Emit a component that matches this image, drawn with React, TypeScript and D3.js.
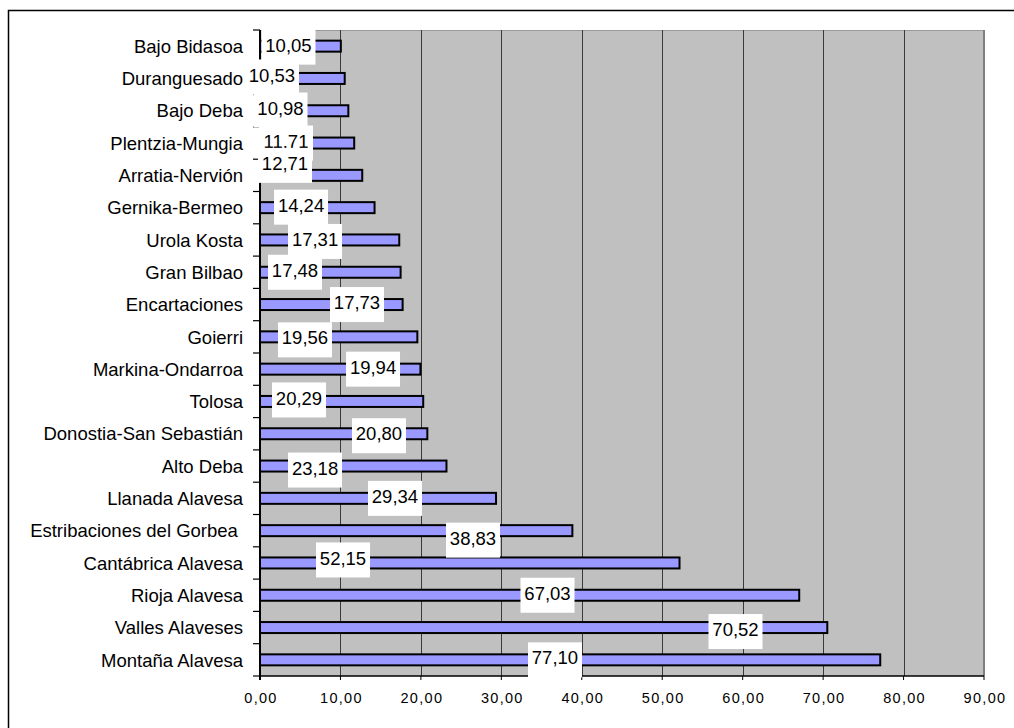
import React from "react";
import * as d3 from "d3";

// Comarcas and their values (bottom of the list is the largest)
const categories = [
  "Bajo Bidasoa",
  "Duranguesado",
  "Bajo Deba",
  "Plentzia-Mungia",
  "Arratia-Nervión",
  "Gernika-Bermeo",
  "Urola Kosta",
  "Gran Bilbao",
  "Encartaciones",
  "Goierri",
  "Markina-Ondarroa",
  "Tolosa",
  "Donostia-San Sebastián",
  "Alto Deba",
  "Llanada Alavesa",
  "Estribaciones del Gorbea ",
  "Cantábrica Alavesa",
  "Rioja Alavesa",
  "Valles Alaveses",
  "Montaña Alavesa",
];

const values = [
  10.05, 10.53, 10.98, 11.71, 12.71, 14.24, 17.31, 17.48, 17.73, 19.56,
  19.94, 20.29, 20.8, 23.18, 29.34, 38.83, 52.15, 67.03, 70.52, 77.1,
];

const valueLabels = [
  "10,05", "10,53", "10,98", "11.71", "12,71", "14,24", "17,31", "17,48",
  "17,73", "19,56", "19,94", "20,29", "20,80", "23,18", "29,34", "38,83",
  "52,15", "67,03", "70,52", "77,10",
];

const tickValues = [0, 10, 20, 30, 40, 50, 60, 70, 80, 90];
const tickLabels = [
  "0,00", "10,00", "20,00", "30,00", "40,00", "50,00", "60,00", "70,00",
  "80,00", "90,00",
];

// Where each data label box sits: [position along the value axis, vertical shift in px]
const labelPlacement: [number, number][] = [
  [3.54, 1], [1.49, -1.5], [2.55, -0.75], [3.23, 0], [3.11, -10],
  [5.1, -0.5], [6.84, 1.5], [4.35, 0], [12.06, 0], [5.59, 3],
  [14.05, 0], [4.85, -1.5], [14.79, 2], [6.84, 4], [16.78, 0],
  [26.48, 9.5], [10.32, -3], [35.74, 0], [59.11, 4], [36.67, 0],
];

const W = 1014;
const H = 728;
const plot = { left: 260, right: 984, top: 30, bottom: 676 };
const FONT = "'Liberation Sans', Arial, Helvetica, sans-serif";

export default function App() {
  const x = d3.scaleLinear().domain([0, 90]).range([plot.left, plot.right]);
  const y = d3
    .scaleBand<string>()
    .domain(categories)
    .range([plot.top, plot.bottom])
    .paddingInner(0)
    .paddingOuter(0);
  const bw = y.bandwidth();
  const barH = 11;
  const boxW = 54;
  const boxH = 35;

  const boundaries = d3.range(categories.length + 1).map((k) => plot.top + k * bw);

  return (
    <svg
      width={W}
      height={H}
      style={{ position: "absolute", left: 0, top: 0, background: "#fff" }}
      fontFamily={FONT}
    >
      <rect x={0} y={0} width={W} height={H} fill="#fff" />
      {/* outer chart frame */}
      <rect x={8.5} y={10.5} width={W + 20} height={H + 20} fill="none" stroke="#000" strokeWidth={1.5} />

      {/* plot area */}
      <rect
        x={plot.left}
        y={plot.top}
        width={plot.right - plot.left}
        height={plot.bottom - plot.top}
        fill="#C0C0C0"
      />
      <line x1={plot.left} x2={plot.right} y1={plot.top + 0.5} y2={plot.top + 0.5} stroke="#9a9a9a" strokeWidth={1} />
      <line x1={plot.right} x2={plot.right} y1={plot.top} y2={plot.bottom} stroke="#808080" strokeWidth={2} />

      {/* vertical gridlines */}
      {tickValues.slice(1, -1).map((t) => (
        <line
          key={"g" + t}
          x1={Math.round(x(t)) + 0.5}
          x2={Math.round(x(t)) + 0.5}
          y1={plot.top}
          y2={plot.bottom}
          stroke="#3a3a3a"
          strokeWidth={1}
        />
      ))}

      {/* bars */}
      {categories.map((c, i) => (
        <rect
          key={"b" + c}
          x={x(0)}
          y={(y(c) as number) + bw / 2 - barH / 2}
          width={x(values[i]) - x(0)}
          height={barH}
          fill="#9999FF"
          stroke="#000"
          strokeWidth={2}
        />
      ))}

      {/* category axis */}
      <line x1={plot.left} x2={plot.left} y1={plot.top} y2={plot.bottom + 4} stroke="#000" strokeWidth={2} />
      {boundaries.map((b, k) => (
        <line key={"ct" + k} x1={plot.left - 7} x2={plot.left} y1={b} y2={b} stroke="#000" strokeWidth={1.2} />
      ))}
      {categories.map((c) => (
        <text
          key={"cl" + c}
          x={243}
          y={(y(c) as number) + bw / 2 + 6.7}
          textAnchor="end"
          fontSize={18.5}
          fill="#000"
          style={{ whiteSpace: "pre" }}
        >
          {c}
        </text>
      ))}

      {/* value axis */}
      <line x1={plot.left} x2={plot.right} y1={plot.bottom} y2={plot.bottom} stroke="#000" strokeWidth={1.5} />
      {tickValues.map((t, i) => (
        <g key={"xt" + t}>
          <line x1={x(t)} x2={x(t)} y1={plot.bottom} y2={plot.bottom + 4} stroke="#000" strokeWidth={1} />
          <text
            x={x(t) + 1}
            y={703}
            textAnchor="middle"
            fontSize={14.5}
            letterSpacing={1.3}
            fill="#000"
          >
            {tickLabels[i]}
          </text>
        </g>
      ))}

      {/* data labels */}
      {categories.map((c, i) => {
        const cx = x(labelPlacement[i][0]);
        const cy = (y(c) as number) + bw / 2 + labelPlacement[i][1];
        return (
          <g key={"dl" + c}>
            <rect x={cx - boxW / 2} y={cy - boxH / 2} width={boxW} height={boxH} fill="#fff" />
            <text x={cx} y={cy + 4.6} textAnchor="middle" fontSize={18.5} fill="#000">
              {valueLabels[i]}
            </text>
          </g>
        );
      })}
    </svg>
  );
}
